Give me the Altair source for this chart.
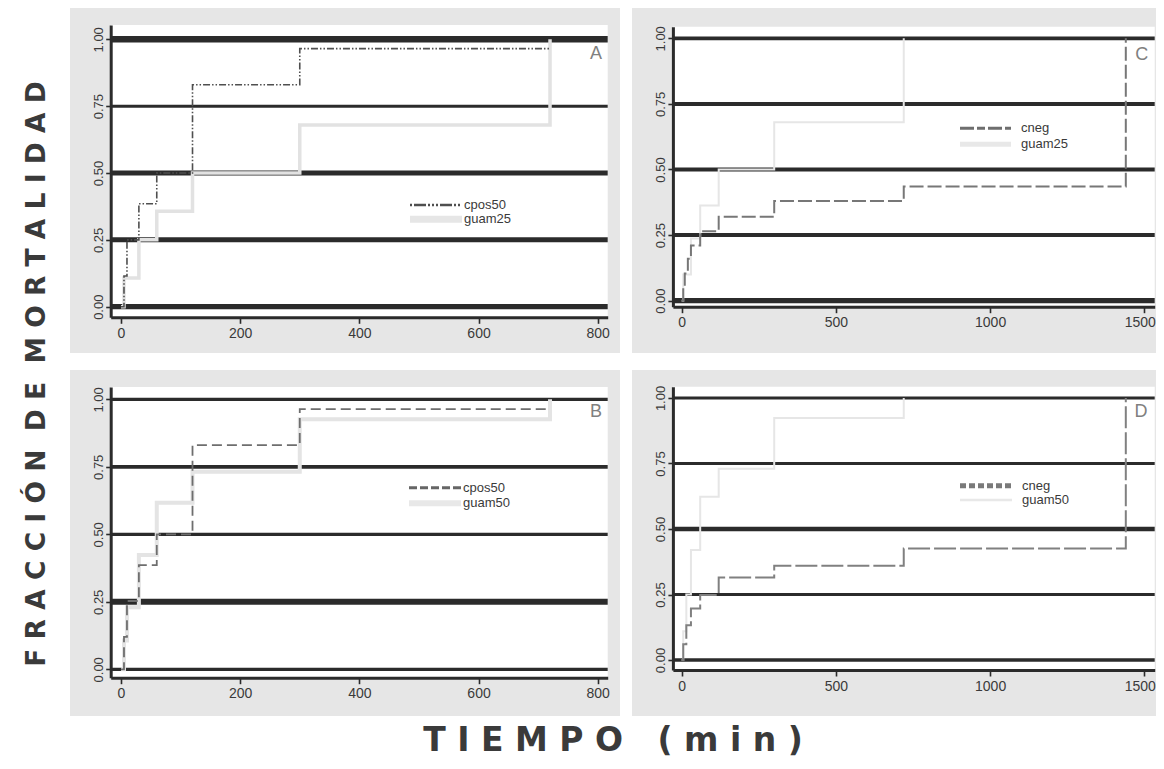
import altair as alt
import pandas as pd

OFF = 8          # page margin
W, H = 1148, 753 # whole drawing (autosize none)

# ---------------- data ----------------
panel_letters = ["A", "B", "C", "D"]
y_ticks = [0.0, 0.25, 0.5, 0.75, 1.0]
x_ticks_left = [0, 200, 400, 600, 800]
x_ticks_right = [0, 500, 1000, 1500]

# Panel A
names_A = ["cpos50", "guam25"]
t_A_cpos50 = [0, 5, 10, 30, 60, 120, 300, 720]
v_A_cpos50 = [0, 0.115, 0.25, 0.385, 0.5, 0.83, 0.965, 0.965]
t_A_guam25 = [0, 5, 30, 60, 120, 300, 720]
v_A_guam25 = [0, 0.107, 0.25, 0.357, 0.5, 0.68, 1.0]

# Panel B
names_B = ["cpos50", "guam50"]
t_B_cpos50 = [0, 5, 10, 30, 60, 120, 300, 720]
v_B_cpos50 = [0, 0.12, 0.253, 0.386, 0.5, 0.83, 0.964, 0.964]
t_B_guam50 = [0, 5, 10, 30, 60, 120, 300, 720]
v_B_guam50 = [0, 0.107, 0.23, 0.423, 0.617, 0.732, 0.926, 1.0]

# Panel C
names_C = ["cneg", "guam25"]
t_C_cneg = [0, 5, 10, 20, 30, 60, 120, 300, 720, 1440]
v_C_cneg = [0, 0.055, 0.104, 0.16, 0.21, 0.265, 0.32, 0.38, 0.435, 1.0]
t_C_guam25 = [0, 5, 30, 60, 120, 300, 720]
v_C_guam25 = [0, 0.1, 0.237, 0.363, 0.5, 0.68, 1.0]

# Panel D
names_D = ["cneg", "guam50"]
t_D_cneg = [0, 5, 15, 30, 60, 120, 300, 720, 1440]
v_D_cneg = [0, 0.06, 0.133, 0.197, 0.248, 0.315, 0.36, 0.426, 1.0]
t_D_guam50 = [0, 5, 15, 30, 60, 120, 300, 720]
v_D_guam50 = [0, 0.11, 0.25, 0.42, 0.623, 0.73, 0.924, 1.0]

y_title = "FRACCIÓN DE MORTALIDAD"
x_title = "TIEMPO (min)"

# ---------------- styles / layout ----------------
GRID = "#2b2b2b"
AXIS = "#2b2b2b"
BG = "#e6e6e6"
LABEL_FONT = "Liberation Sans"
BIG_FONT = "DejaVu Sans"

grid_w_A = [5.3, 5, 5, 3, 6.5]
grid_w_B = [3.3, 6, 3.3, 3.7, 3.3]
grid_w_C = [5.3, 4, 4, 4, 3.7]
grid_w_D = [3.3, 3, 4.7, 3, 3]

panels = [
    dict(letter=panel_letters[0], bg=(70, 620, 8, 353), plot=(110.7, 607.7, 25, 317.3),
         xdom=[-17.3, 816.8], ydom=[-0.0396, 1.0535], xticks=x_ticks_left, grid_w=grid_w_A,
         letter_pos=(596, 54), edge_tick=None,
         series=[
             dict(t=t_A_guam25, v=v_A_guam25, color="#e2e2e2", width=3.5, dash=None),
             dict(t=t_A_cpos50, v=v_A_cpos50, color="#4f4f4f", width=1.6, dash=[7, 2, 1.5, 2, 1.5, 2]),
         ],
         legend=[
             dict(label=names_A[0], y=205, x0=410, x1=462, lx=464, color="#4f4f4f", width=2.5, dash=[2, 2, 12, 2, 2, 2, 2, 2]),
             dict(label=names_A[1], y=219.3, x0=410, x1=462, lx=464, color="#e6e6e6", width=7, dash=None),
         ]),
    dict(letter=panel_letters[1], bg=(70, 620, 370, 716), plot=(110.7, 607.7, 387, 677.7),
         xdom=[-17.3, 816.8], ydom=[-0.0311, 1.0456], xticks=x_ticks_left, grid_w=grid_w_B,
         letter_pos=(596, 411.5), edge_tick=None,
         series=[
             dict(t=t_B_guam50, v=v_B_guam50, color="#e4e4e4", width=4, dash=None),
             dict(t=t_B_cpos50, v=v_B_cpos50, color="#6e6e6e", width=1.8, dash=[10, 5]),
         ],
         legend=[
             dict(label=names_B[0], y=487.7, x0=409, x1=461, lx=463, color="#666666", width=3, dash=[8, 3]),
             dict(label=names_B[1], y=503.3, x0=409, x1=461, lx=463, color="#e8e8e8", width=6, dash=None),
         ]),
    dict(letter=panel_letters[2], bg=(632, 1164, 8, 353), plot=(672.9, 1154.7, 26.7, 306.7),
         xdom=[-28.5, 1533.7], ydom=[-0.0229, 1.0442], xticks=x_ticks_right, grid_w=grid_w_C,
         letter_pos=(1141.8, 55), edge_tick=1500,
         series=[
             dict(t=t_C_guam25, v=v_C_guam25, color="#e6e6e6", width=2, dash=None),
             dict(t=t_C_cneg, v=v_C_cneg, color="#777777", width=2, dash=[14, 4]),
         ],
         legend=[
             dict(label=names_C[0], y=128.3, x0=960, x1=1011, lx=1021, color="#6e6e6e", width=3, dash=[14, 3, 8, 3]),
             dict(label=names_C[1], y=144.3, x0=960, x1=1011, lx=1021, color="#e8e8e8", width=5, dash=None),
         ]),
    dict(letter=panel_letters[3], bg=(632, 1164, 370, 716), plot=(672.9, 1154.7, 386.7, 670),
         xdom=[-28.5, 1533.7], ydom=[-0.0381, 1.043], xticks=x_ticks_right, grid_w=grid_w_D,
         letter_pos=(1141, 411.7), edge_tick=1500,
         series=[
             dict(t=t_D_guam50, v=v_D_guam50, color="#e6e6e6", width=2, dash=None),
             dict(t=t_D_cneg, v=v_D_cneg, color="#808080", width=2, dash=[22, 4]),
         ],
         legend=[
             dict(label=names_D[0], y=485.7, x0=960, x1=1012, lx=1022, color="#7a7a7a", width=5, dash=[6, 3]),
             dict(label=names_D[1], y=500, x0=960, x1=1012, lx=1022, color="#e8e8e8", width=2.5, dash=None),
         ]),
]


def panel_chart(cfg):
    xl, xr, yt, yb = cfg["plot"]
    xs = alt.Scale(domain=cfg["xdom"], range=[xl - OFF, xr - OFF], nice=False, zero=False)
    ys = alt.Scale(domain=cfg["ydom"], range=[yb - OFF, yt - OFF], nice=False, zero=False)
    xkw = {}
    if cfg["edge_tick"] is not None:
        test = "datum.value == %d" % cfg["edge_tick"]
        xkw["labelAlign"] = {"condition": {"test": test, "value": "right"}, "value": "center"}
        xkw["labelOffset"] = {"condition": {"test": test, "value": 11}, "value": 0}
    xa = alt.Axis(orient="bottom", offset=(yb - OFF) - H, values=cfg["xticks"], format="d",
                  grid=False, title=None, zindex=1, domainColor=AXIS, domainWidth=3,
                  tickColor=AXIS, tickWidth=1.6, tickSize=6, labelPadding=3,
                  labelFont=LABEL_FONT, labelFontSize=14, labelColor="#3a3a3a",
                  labelFlush=False, labelOverlap=False, **xkw)
    ya = alt.Axis(orient="left", offset=-(xl - OFF), values=y_ticks, format=".2f",
                  labelAngle=270, labelAlign="center", labelBaseline="bottom",
                  grid=False, title=None, zindex=1, domainColor=AXIS, domainWidth=3,
                  tickColor=AXIS, tickWidth=1.6, tickSize=5, labelPadding=0,
                  labelFont=LABEL_FONT, labelFontSize=13, labelColor="#3a3a3a",
                  labelFlush=False, labelOverlap=False)
    grid_df = pd.DataFrame({"v": y_ticks, "w": cfg["grid_w"]})
    layers = [
        alt.Chart(grid_df).mark_rule(color=GRID).encode(
            y=alt.Y("v:Q", scale=ys, axis=ya),
            x=alt.value(xl - OFF), x2=alt.value(xr - OFF),
            strokeWidth=alt.StrokeWidth("w:Q", scale=None),
        )
    ]
    for s in cfg["series"]:
        df = pd.DataFrame({"t": s["t"], "v": s["v"]})
        kw = dict(interpolate="step-after", color=s["color"], strokeWidth=s["width"])
        if s["dash"]:
            kw["strokeDash"] = s["dash"]
        layers.append(
            alt.Chart(df).mark_line(**kw).encode(
                x=alt.X("t:Q", scale=xs, axis=xa),
                y=alt.Y("v:Q", scale=ys, axis=ya),
            )
        )
    return alt.layer(*layers)


def legend_chart(cfg):
    parts = []
    for r in cfg["legend"]:
        src = pd.DataFrame({"label": [r["label"]]})
        kw = dict(color=r["color"], strokeWidth=r["width"])
        if r["dash"]:
            kw["strokeDash"] = r["dash"]
        parts.append(alt.Chart(src).mark_rule(**kw).encode(
            x=alt.value(r["x0"] - OFF), x2=alt.value(r["x1"] - OFF), y=alt.value(r["y"] - OFF)))
        parts.append(alt.Chart(src).mark_text(align="left", baseline="middle", font=LABEL_FONT,
                                              fontSize=13, color="#3a3a3a").encode(
            x=alt.value(r["lx"] - OFF), y=alt.value(r["y"] - OFF), text="label:N"))
    lsrc = pd.DataFrame({"label": [cfg["letter"]]})
    parts.append(alt.Chart(lsrc).mark_text(align="center", baseline="middle", font=LABEL_FONT,
                                           fontSize=18, color="#808080").encode(
        x=alt.value(cfg["letter_pos"][0] - OFF), y=alt.value(cfg["letter_pos"][1] - OFF), text="label:N"))
    return parts


# background boxes (layout only)
boxes = []
for p in panels:
    x0, x1, y0, y1 = p["bg"]
    boxes.append(dict(x0=x0 - OFF, x1=min(x1 - OFF, W), y0=max(y0 - OFF, 0), y1=y1 - OFF, fill=BG, o=0))
for p in panels:
    xl, xr, yt, yb = p["plot"]
    boxes.append(dict(x0=xl - OFF, x1=xr - OFF, y0=yt - OFF, y1=yb - OFF, fill="#ffffff", o=1))
box_df = pd.DataFrame(boxes)
bg = alt.Chart(box_df).mark_rect().encode(
    x=alt.X("x0:Q", scale=None, axis=None), x2="x1:Q",
    y=alt.Y("y0:Q", scale=None, axis=None), y2="y1:Q",
    color=alt.Color("fill:N", scale=None),
    order=alt.Order("o:Q"),
)

NB = "\u00a0"
def spaced(s, gap):
    words = s.split(" ")
    return (NB * gap).join(NB.join(list(w)) for w in words)

ytitle_df = pd.DataFrame({"label": [spaced(y_title, 2)]})
xtitle_df = pd.DataFrame({"label": [spaced(x_title, 3)]})
ytitle = alt.Chart(ytitle_df).mark_text(angle=270, align="center", baseline="middle",
                                         font=BIG_FONT, fontSize=26.5, fontWeight="bold",
                                         color="#3a3a3a").encode(
    x=alt.value(37 - OFF), y=alt.value(374 - OFF), text="label:N")
xtitle = alt.Chart(xtitle_df).mark_text(align="center", baseline="alphabetic",
                                         font=BIG_FONT, fontSize=33, fontWeight="bold",
                                         color="#3a3a3a").encode(
    x=alt.value(613 - OFF), y=alt.value(751 - OFF), text="label:N")

layers = [bg] + [panel_chart(p) for p in panels]
for p in panels:
    layers += legend_chart(p)
layers += [ytitle, xtitle]

chart = alt.layer(*layers).resolve_scale(
    x="independent", y="independent"
).resolve_axis(
    x="independent", y="independent"
).properties(
    width=W, height=H, autosize=alt.AutoSizeParams(type="none"), padding=0, background="white"
).configure_view(strokeWidth=0)

chart.save("out.html", embed_options={"renderer": "svg", "actions": False})
